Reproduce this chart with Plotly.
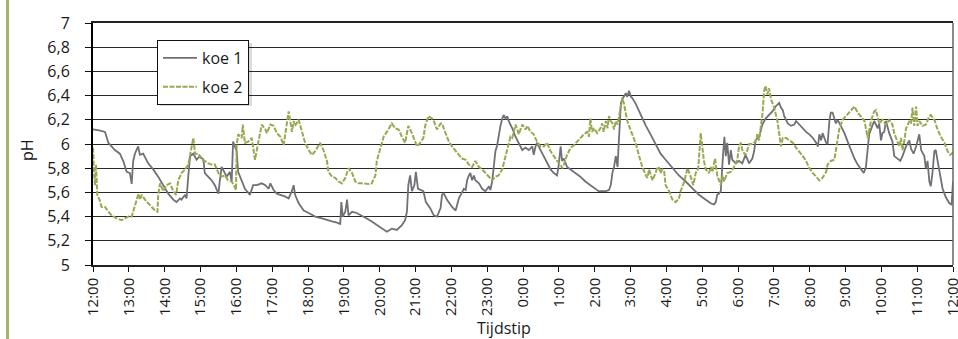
import plotly.graph_objects as go

# ---------------- data (hours after 12:00, pH) ----------------
koe1_hours = [0.0, 0.01, 0.2, 0.335, 0.43, 0.52, 0.61, 0.75, 0.85, 0.94, 1.03, 1.08, 1.12, 1.17, 1.26, 1.31, 1.40,
              1.54, 1.68, 1.82, 1.96, 2.10, 2.24, 2.33, 2.43, 2.47, 2.57, 2.61, 2.66, 2.71, 2.80, 2.89, 2.98, 3.08,
              3.12, 3.22, 3.31, 3.40, 3.50, 3.54, 3.59, 3.68, 3.73, 3.82, 3.87, 3.91, 4.01, 4.05, 4.15, 4.24, 4.38,
              4.47, 4.57,
              4.71, 4.81, 4.90, 4.95, 5.04, 5.13, 5.23, 5.37, 5.46, 5.55, 5.60, 5.64, 5.74, 5.88, 6.02, 6.20, 6.39,
              6.53, 6.67, 6.81, 6.90, 6.93, 6.97, 7.04, 7.09, 7.13, 7.23, 7.36, 7.50, 7.64, 7.78, 7.92, 8.06, 8.20,
              8.34, 8.48, 8.62, 8.71, 8.76, 8.80, 8.85, 8.90, 8.97, 9.01, 9.07, 9.13, 9.22, 9.29, 9.41,
              9.51, 9.60, 9.70, 9.74, 9.79, 9.88, 10.02, 10.12, 10.21, 10.30, 10.35, 10.40, 10.44, 10.49, 10.53,
              10.58, 10.63, 10.67, 10.77, 10.86, 10.95, 11.05, 11.09, 11.14, 11.19, 11.23, 11.28, 11.32, 11.37,
              11.42, 11.46, 11.51, 11.56, 11.60, 11.70, 11.79, 11.88, 11.98, 12.07, 12.16, 12.26, 12.30, 12.35,
              12.39, 12.49, 12.58, 12.67, 12.77, 12.86, 12.95, 12.99, 13.05, 13.09, 13.14, 13.23, 13.33, 13.46,
              13.60, 13.74, 13.88, 14.02, 14.11, 14.21,
              14.31, 14.40, 14.45, 14.50, 14.54, 14.59, 14.64, 14.66, 14.70, 14.73, 14.77, 14.82, 14.87, 14.91,
              14.96, 15.01, 15.05, 15.15, 15.24, 15.33, 15.43, 15.56, 15.70, 15.84, 15.98, 16.17, 16.35, 16.54,
              16.73, 16.91, 17.10, 17.24, 17.33, 17.38, 17.42, 17.47, 17.52, 17.55, 17.58, 17.62, 17.66, 17.70,
              17.75, 17.80, 17.84, 17.94, 18.03, 18.12, 18.21, 18.31, 18.40, 18.45, 18.49, 18.59, 18.68, 18.77,
              18.87, 18.96, 19.05,
              19.15, 19.20, 19.25, 19.29, 19.39, 19.48, 19.57, 19.62, 19.71, 19.81, 19.90, 19.99, 20.09, 20.18,
              20.23, 20.27, 20.32, 20.36, 20.46, 20.50, 20.55, 20.59, 20.64, 20.73, 20.78, 20.87, 20.97, 21.06,
              21.15, 21.25, 21.34, 21.43, 21.51, 21.57, 21.62, 21.66, 21.76, 21.80, 21.90, 21.94, 21.99, 22.03,
              22.08, 22.13, 22.22, 22.31, 22.36, 22.45, 22.53, 22.59, 22.69, 22.78, 22.83, 22.90, 22.97, 23.06,
              23.11, 23.20, 23.24, 23.29, 23.34, 23.38, 23.43, 23.48, 23.52, 23.57, 23.62, 23.66, 23.71, 23.80,
              23.90, 23.96, 24.00]
koe1_ph = [6.12, 6.12, 6.11, 6.10, 6.01, 5.98, 5.95, 5.92, 5.855, 5.77, 5.76, 5.67, 5.855, 5.92, 5.98, 5.91, 5.92,
           5.84, 5.79, 5.73, 5.66, 5.59, 5.54, 5.52, 5.55, 5.54, 5.58, 5.55, 5.74, 5.90, 5.92, 5.87, 5.90, 5.87,
           5.76, 5.73, 5.70, 5.66, 5.59, 5.70, 5.81, 5.76, 5.73, 5.77, 5.69, 6.02, 5.94, 5.77, 5.70, 5.63, 5.58,
           5.66, 5.66,
           5.675, 5.66, 5.63, 5.675, 5.62, 5.59, 5.58, 5.565, 5.55, 5.61, 5.66, 5.58, 5.51, 5.45, 5.43, 5.40, 5.385,
           5.37, 5.36, 5.35, 5.34, 5.52, 5.40, 5.44, 5.54, 5.41, 5.44, 5.43, 5.41, 5.385, 5.36, 5.33, 5.30, 5.275,
           5.30, 5.29, 5.33, 5.37, 5.44, 5.66, 5.74, 5.61, 5.66, 5.77, 5.63, 5.62, 5.61, 5.52, 5.47,
           5.41, 5.40, 5.47, 5.58, 5.59, 5.54, 5.48, 5.45, 5.55, 5.61, 5.63, 5.62, 5.70, 5.74, 5.76,
           5.70, 5.74, 5.70, 5.675, 5.63, 5.61, 5.65, 5.62, 5.69, 5.83, 5.94, 5.99, 6.08, 6.15,
           6.21, 6.24, 6.21, 6.23, 6.19, 6.13, 6.06, 6.01, 5.95, 5.97, 5.95, 5.98, 5.91, 5.98,
           6.01, 5.95, 5.90, 5.84, 5.79, 5.76, 5.74, 5.81, 5.98, 5.86, 5.88, 5.81, 5.79, 5.76,
           5.73, 5.69, 5.66, 5.63, 5.61, 5.61,
           5.61, 5.62, 5.66, 5.77, 5.81, 5.90, 5.81, 5.94, 6.21, 6.33, 6.37, 6.39, 6.42, 6.39,
           6.44, 6.39, 6.38, 6.33, 6.27, 6.21, 6.15, 6.08, 6.00, 5.92, 5.87, 5.80, 5.74, 5.69,
           5.63, 5.58, 5.54, 5.51, 5.50, 5.52, 5.58, 5.59, 5.61, 5.80, 5.90, 6.06, 5.90, 6.01,
           5.83, 5.95, 5.87, 5.84, 5.86, 5.84, 5.91, 5.84, 5.88, 5.94, 6.03, 6.06, 6.16, 6.21,
           6.24, 6.27, 6.31,
           6.34, 6.30, 6.28, 6.23, 6.17, 6.15, 6.16, 6.19, 6.16, 6.13, 6.10, 6.08, 6.05, 6.01,
           5.98, 6.08, 6.03, 6.09, 6.01, 6.00, 6.19, 6.26, 6.26, 6.17, 6.20, 6.15, 6.09, 6.02,
           5.95, 5.88, 5.83, 5.79, 5.76, 5.81, 5.94, 6.08, 6.16, 6.19, 6.13, 6.17, 6.03, 6.09,
           6.10, 6.19, 6.09, 6.02, 5.90, 5.88, 5.86, 5.90, 5.98, 6.03, 5.96, 5.92, 5.98, 6.08,
           5.95, 5.90, 5.80, 5.86, 5.69, 5.65, 5.77, 5.94, 5.95, 5.86, 5.77, 5.69, 5.63, 5.56,
           5.51, 5.50, 5.69]

koe2_hours = [0.0, 0.009, 0.028, 0.056, 0.084, 0.12, 0.18, 0.24, 0.335, 0.43, 0.52, 0.66, 0.80, 0.89, 0.99, 1.08,
              1.13, 1.22, 1.27, 1.31, 1.36, 1.45, 1.54, 1.64, 1.73, 1.80, 1.82, 1.87, 1.96, 2.05, 2.15, 2.24, 2.32,
              2.38, 2.47, 2.57, 2.66, 2.71, 2.75, 2.80, 2.85, 2.94, 3.03, 3.12, 3.22, 3.31, 3.40, 3.50, 3.59, 3.68,
              3.77, 3.87, 3.93, 3.99, 4.01, 4.05, 4.15, 4.18, 4.24, 4.33, 4.43, 4.52, 4.61,
              4.71, 4.81, 4.85, 4.95, 5.04, 5.13, 5.23, 5.32, 5.37, 5.41, 5.46, 5.50, 5.55, 5.60, 5.64, 5.74, 5.83,
              5.92, 6.02, 6.11, 6.20, 6.29, 6.34, 6.43, 6.53, 6.57, 6.67, 6.76, 6.85, 6.95, 7.04, 7.13, 7.23, 7.32,
              7.41, 7.50, 7.60, 7.69, 7.78, 7.88, 7.92, 7.99, 8.06, 8.11, 8.20, 8.30, 8.34, 8.43, 8.53, 8.62, 8.71,
              8.80, 8.90, 9.04, 9.13, 9.22, 9.27, 9.36, 9.46,
              9.51, 9.60, 9.70, 9.74, 9.84, 9.93, 10.02, 10.12, 10.21, 10.30, 10.40, 10.49, 10.58, 10.67, 10.77,
              10.86, 10.95, 11.05, 11.14, 11.23, 11.32, 11.42, 11.51, 11.60, 11.65, 11.70, 11.74, 11.79, 11.84,
              11.88, 11.98, 12.07, 12.12, 12.21, 12.30, 12.39, 12.49, 12.58, 12.67, 12.77, 12.86, 12.95, 13.05,
              13.09, 13.14, 13.23, 13.33, 13.42, 13.51, 13.60, 13.70, 13.79, 13.84, 13.88, 13.93, 13.98, 14.07,
              14.16, 14.21, 14.25,
              14.31, 14.36, 14.40, 14.45, 14.50, 14.54, 14.59, 14.64, 14.68, 14.73, 14.77, 14.82, 14.87, 14.91,
              14.96, 15.05, 15.15, 15.24, 15.33, 15.43, 15.47, 15.52, 15.61, 15.70, 15.75, 15.80, 15.84, 15.89,
              15.94, 15.98, 16.08, 16.17, 16.26, 16.35, 16.40, 16.50, 16.59, 16.68, 16.75, 16.82, 16.89, 16.96,
              17.01, 17.05, 17.10, 17.19, 17.24, 17.29, 17.36, 17.42, 17.47, 17.52, 17.57, 17.61, 17.70, 17.80,
              17.89, 17.98, 18.03, 18.08, 18.12, 18.20, 18.26, 18.31, 18.40, 18.49, 18.54, 18.59, 18.63, 18.68,
              18.73, 18.77, 18.82, 18.87, 18.92, 19.01, 19.10,
              19.15, 19.20, 19.25, 19.34, 19.43, 19.53, 19.62, 19.71, 19.81, 19.90, 19.99, 20.09, 20.18, 20.27,
              20.36, 20.46, 20.50, 20.59, 20.69, 20.73, 20.83, 20.92, 21.01, 21.11, 21.20, 21.25, 21.34, 21.43,
              21.53, 21.62, 21.71, 21.80, 21.85, 21.94, 22.03, 22.13, 22.22, 22.31, 22.36, 22.41, 22.50, 22.55,
              22.59, 22.64, 22.69, 22.73, 22.78, 22.83, 22.87, 22.92, 22.97, 23.01, 23.06, 23.15, 23.24, 23.34,
              23.38, 23.48, 23.57, 23.66, 23.76, 23.85, 23.92, 24.00]
koe2_ph = [5.97, 5.88, 5.77, 5.66, 5.83, 5.58, 5.54, 5.48, 5.48, 5.44, 5.41, 5.385, 5.37, 5.385, 5.40, 5.40,
           5.45, 5.54, 5.59, 5.54, 5.58, 5.54, 5.51, 5.48, 5.45, 5.44, 5.58, 5.675, 5.61, 5.66, 5.675, 5.61, 5.58,
           5.70, 5.76, 5.79, 5.83, 5.91, 5.98, 6.05, 5.92, 5.92, 5.87, 5.86, 5.84, 5.83, 5.83, 5.76, 5.73, 5.74,
           5.70, 5.69, 5.66, 5.62, 5.99, 6.08, 6.05, 6.16, 6.01, 6.02, 6.05, 5.87, 6.01,
           6.16, 6.12, 6.09, 6.16, 6.15, 6.09, 6.06, 5.99, 6.08, 6.15, 6.27, 6.20, 6.10, 6.19, 6.15, 6.20, 6.10,
           6.01, 5.95, 5.91, 5.94, 5.98, 6.01, 5.95, 5.86, 5.77, 5.73, 5.72, 5.69, 5.675, 5.72, 5.80, 5.76, 5.69,
           5.675, 5.675, 5.67, 5.67, 5.675, 5.74, 5.86, 5.94, 6.02, 6.06, 6.10, 6.16, 6.17, 6.13, 6.12, 6.06, 6.01,
           6.15, 6.09, 5.98, 6.01, 6.05, 6.15, 6.23, 6.21,
           6.19, 6.12, 6.17, 6.17, 6.09, 6.02, 5.98, 5.94, 5.91, 5.88, 5.87, 5.83, 5.81, 5.86, 5.81,
           5.79, 5.76, 5.73, 5.70, 5.73, 5.74, 5.79, 5.90, 6.01, 6.06, 6.05, 6.09, 6.16, 6.12,
           6.08, 6.16, 6.12, 6.15, 6.10, 6.08, 6.02, 5.98, 5.98, 6.01, 5.94, 5.90, 5.86, 5.83,
           5.80, 5.83, 5.91, 5.97, 5.99, 6.02, 6.05, 6.08, 6.10, 6.06, 6.21, 6.10, 6.13, 6.09,
           6.13, 6.17, 6.10,
           6.19, 6.13, 6.23, 6.19, 6.17, 6.12, 6.19, 6.16, 6.23, 6.34, 6.38, 6.33, 6.24, 6.19,
           6.15, 6.08, 6.00, 5.90, 5.81, 5.74, 5.72, 5.79, 5.70, 5.76, 5.81, 5.80, 5.76, 5.79,
           5.77, 5.66, 5.61, 5.54, 5.52, 5.55, 5.61, 5.69, 5.80, 5.73, 5.66, 5.76, 5.80, 6.09,
           5.94, 5.86, 5.79, 5.76, 5.81, 5.77, 5.88, 5.74, 5.70, 5.66, 5.74, 5.69, 5.76, 5.77,
           5.81, 5.87, 5.98, 6.01, 5.95, 5.91, 5.95, 6.00, 6.00, 6.02, 6.08, 6.03, 6.13, 6.24,
           6.44, 6.48, 6.41, 6.46, 6.37, 6.30, 6.19,
           6.08, 5.98, 6.05, 6.05, 6.03, 6.01, 5.97, 5.94, 5.90, 5.86, 5.80, 5.76, 5.73, 5.70,
           5.72, 5.77, 5.83, 5.86, 5.87, 5.95, 6.13, 6.20, 6.23, 6.27, 6.30, 6.31, 6.26, 6.23,
           6.19, 6.05, 6.19, 6.27, 6.28, 6.17, 6.20, 6.16, 6.20, 6.16, 6.09, 6.05, 5.98, 6.05,
           5.95, 6.02, 6.13, 6.15, 6.19, 6.17, 6.30, 6.15, 6.31, 6.15, 6.19, 6.15, 6.16, 6.23,
           6.24, 6.20, 6.12, 6.06, 6.01, 5.94, 5.91, 5.93]

x_tick_hours = list(range(0, 25))
x_tick_labels = ["12:00", "13:00", "14:00", "15:00", "16:00", "17:00", "18:00", "19:00", "20:00", "21:00",
                 "22:00", "23:00", "0:00", "1:00", "2:00", "3:00", "4:00", "5:00", "6:00", "7:00", "8:00",
                 "9:00", "10:00", "11:00", "12:00"]
y_tick_values = [5, 5.2, 5.4, 5.6, 5.8, 6, 6.2, 6.4, 6.6, 6.8, 7]
y_tick_labels = ["5", "5,2", "5,4", "5,6", "5,8", "6", "6,2", "6,4", "6,6", "6,8", "7"]

# ---------------- styling ----------------
FONT = "Open Sans"
GRAY = "rgb(112,113,118)"
GREEN = "rgb(154,168,82)"
OLIVE_BAR = "rgb(168,178,108)"

W, H = 958, 339
L, R, T, B = 93, 5, 23, 74
pw, ph = W - L - R, H - T - B


def px_x(p):
    return (p - L) / pw


def px_y(p):
    return (H - B - p) / ph


fig = go.Figure()
fig.add_trace(go.Scatter(x=koe1_hours, y=koe1_ph, mode="lines", name="koe 1", legendgroup="a",
                         line=dict(color=GRAY, width=1.8)))
fig.add_trace(go.Scatter(x=koe2_hours, y=koe2_ph, mode="lines", name="koe 2", legendgroup="b",
                         line=dict(color=GREEN, width=2, dash="5px,1.5px")))

shapes = [
    # legend shadow
    dict(type="rect", xref="paper", yref="paper", x0=px_x(160), x1=px_x(252), y0=px_y(106), y1=px_y(43),
         fillcolor="rgba(0,0,0,0.14)", line=dict(width=0), layer="above"),
    # right frame
    dict(type="line", xref="paper", yref="paper", x0=1, x1=1, y0=0, y1=1,
         line=dict(color="#666666", width=1.5)),
    # decorative olive bar at the left edge
    dict(type="line", xref="paper", yref="paper", x0=px_x(7.5), x1=px_x(7.5), y0=px_y(H + 2), y1=px_y(-2),
         line=dict(color=OLIVE_BAR, width=3)),
]

annotations = [
    dict(text="pH", xref="paper", yref="paper", x=px_x(27), y=px_y(150), textangle=-90, showarrow=False,
         font=dict(family=FONT, size=16, color="#1a1a1a"), xanchor="center", yanchor="middle"),
    dict(text="Tijdstip", xref="paper", yref="paper", x=px_x(504), y=px_y(328), showarrow=False,
         font=dict(family=FONT, size=16, color="#1a1a1a"), xanchor="center", yanchor="middle"),
]

fig.update_layout(
    width=W, height=H,
    margin=dict(l=L, r=R, t=T, b=B, pad=0, autoexpand=False),
    paper_bgcolor="white", plot_bgcolor="white",
    font=dict(family=FONT, size=15, color="#1a1a1a"),
    showlegend=True,
    legend=dict(x=px_x(157), y=px_y(40), xanchor="left", yanchor="top",
                bgcolor="white", bordercolor="#111111", borderwidth=1,
                font=dict(family=FONT, size=16, color="#1a1a1a"),
                tracegroupgap=5, itemwidth=34, traceorder="grouped"),
    shapes=shapes,
    annotations=annotations,
    xaxis=dict(range=[0, 24], tickmode="array", tickvals=x_tick_hours, ticktext=x_tick_labels,
               tickangle=-90, ticks="outside", ticklen=5, tickcolor="#111111", tickwidth=1.2,
               ticklabeloverflow="allow",
               showgrid=False, zeroline=False, showline=True, linecolor="#222222", linewidth=1.5,
               mirror=True, automargin=False, tickfont=dict(family=FONT, size=15, color="#1a1a1a")),
    yaxis=dict(range=[5, 7], tickmode="array", tickvals=y_tick_values, ticktext=y_tick_labels,
               ticks="outside", ticklen=6, tickcolor="#111111", tickwidth=1.2, ticklabelstandoff=12,
               showgrid=True, gridcolor="#2a2a2a", gridwidth=1.4, zeroline=False,
               showline=True, linecolor="#000000", linewidth=2, automargin=False,
               tickfont=dict(family=FONT, size=16, color="#1a1a1a")),
)

fig.write_html("out.html", config={"displayModeBar": False},
               post_script="document.body.style.margin='0';document.body.style.overflow='hidden';")
